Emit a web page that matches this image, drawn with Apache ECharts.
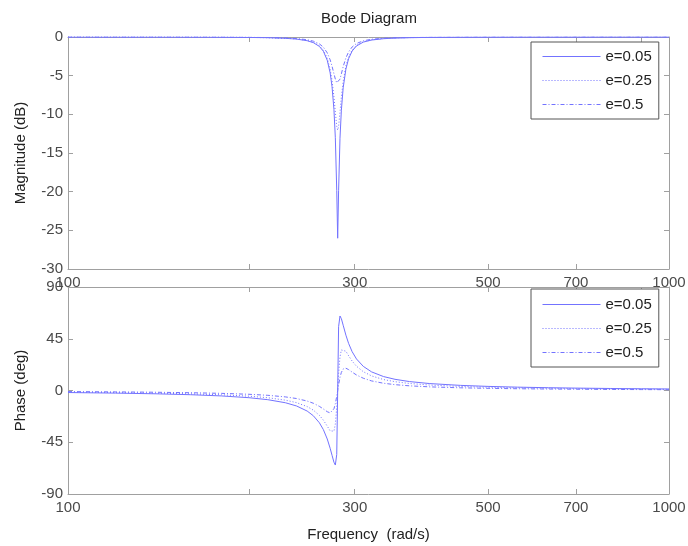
<!DOCTYPE html>
<html>
<head>
<meta charset="utf-8">
<title>Bode Diagram</title>
<script src="https://cdn.jsdelivr.net/npm/echarts@6/dist/echarts.min.js"></script>
<style>
	html, body { margin: 0; padding: 0; background: #fff; }
	#bodeChart { width: 688px; height: 546px; }
</style>
</head>
<body>
<div id="bodeChart"></div>
<script>
// frequency points (rad/s)
var freq = [100, 120, 140, 160, 180, 200, 215, 230, 240, 250, 256, 262, 266, 270, 273, 275, 277, 278.5, 280, 281,
	282, 283.5, 285, 287, 290, 293, 297, 302, 310, 320, 335, 350, 370, 400, 450, 500, 560, 630, 700, 800, 900, 1000];

// magnitude (dB)
var mag005 = [0, -0.01, -0.01, -0.02, -0.03, -0.06, -0.09, -0.17, -0.27, -0.48, -0.73, -1.22, -1.84, -3.01, -4.63, -6.43, -9.35, -13.02, -19.85, -26.02,
	-19.87, -13.09, -9.46, -6.57, -4.15, -2.81, -1.82, -1.16, -0.66, -0.39, -0.22, -0.14, -0.09, -0.05, -0.03, -0.02, -0.01, -0.01, -0.01, 0, 0, 0];
var mag025 = [0, -0.01, -0.01, -0.02, -0.03, -0.05, -0.09, -0.16, -0.25, -0.45, -0.68, -1.14, -1.71, -2.75, -4.16, -5.62, -7.72, -9.70, -11.56, -12.04,
	-11.56, -9.73, -7.78, -5.74, -3.75, -2.58, -1.68, -1.08, -0.62, -0.37, -0.20, -0.13, -0.08, -0.05, -0.03, -0.02, -0.01, -0.01, -0.01, 0, 0, 0];
var mag05 = [0, -0.01, -0.01, -0.01, -0.02, -0.04, -0.07, -0.13, -0.20, -0.35, -0.54, -0.89, -1.31, -2.05, -2.95, -3.78, -4.75, -5.44, -5.92, -6.02,
	-5.92, -5.45, -4.77, -3.83, -2.70, -1.93, -1.29, -0.84, -0.49, -0.29, -0.16, -0.10, -0.07, -0.04, -0.02, -0.01, -0.01, -0.01, 0, 0, 0, 0];

// phase (deg)
var phase005 = [-1.77, -2.27, -2.88, -3.66, -4.72, -6.25, -7.98, -10.65, -13.45, -17.87, -21.97, -28.10, -33.99, -42.17, -50.21, -56.34, -62.34, -64.80, -55.61, 0,
	55.54, 64.79, 62.46, 56.75, 48.13, 40.98, 33.76, 27.42, 20.98, 16.18, 12.11, 9.73, 7.76, 6.01, 4.45, 3.57, 2.92, 2.42, 2.08, 1.74, 1.51, 1.33];
var phase025 = [-1.40, -1.79, -2.28, -2.89, -3.72, -4.93, -6.28, -8.38, -10.56, -13.97, -17.08, -21.61, -25.76, -30.98, -35.08, -36.77, -35.38, -29.21, -14.55, 0,
	14.49, 29.05, 35.24, 36.79, 34.16, 30.27, 25.60, 21.11, 16.35, 12.67, 9.52, 7.66, 6.11, 4.74, 3.51, 2.82, 2.30, 1.91, 1.64, 1.38, 1.19, 1.05];
var phase05 = [-0.93, -1.20, -1.52, -1.93, -2.48, -3.28, -4.18, -5.56, -6.98, -9.16, -11.10, -13.80, -16.05, -18.44, -19.48, -18.80, -15.94, -11.48, -5.01, 0,
	4.99, 11.41, 15.75, 18.73, 19.38, 18.16, 15.98, 13.51, 10.66, 8.34, 6.30, 5.08, 4.06, 3.16, 2.34, 1.88, 1.53, 1.27, 1.10, 0.92, 0.79, 0.70];

var seriesNames = ['e=0.05', 'e=0.25', 'e=0.5'];
var xTicks = [100, 200, 300, 500, 700, 900, 1000];
var xLabels = [100, 300, 500, 700, 900, 1000];

var FONT = "'Liberation Sans', Arial, sans-serif";
var LINE_COLOR = '#7373ff';
var AXIS_COLOR = '#a0a0a0';
var dashTypes = ['solid', [1, 2], [4, 2, 1, 2]];

function pairs(xs, ys) {
	var out = [];
	for (var i = 0; i < xs.length; i++) {
		out.push([xs[i], ys[i]]);
	}
	return out;
}

function xAxisFor(grid, pos, withLabels, name) {
	return {
		type: 'log',
		logBase: 10,
		gridIndex: grid,
		position: pos,
		min: 100,
		max: 1000,
		name: name || '',
		nameLocation: 'middle',
		nameGap: 33,
		nameTextStyle: { fontFamily: FONT, fontSize: 15, color: '#222' },
		axisLine: { show: true, onZero: false, lineStyle: { color: AXIS_COLOR, width: 1 } },
		axisTick: { show: true, inside: true, length: 5, customValues: xTicks, lineStyle: { color: AXIS_COLOR } },
		minorTick: { show: false },
		axisLabel: {
			show: withLabels,
			customValues: xLabels,
			showMinLabel: true,
			showMaxLabel: true,
			margin: 6,
			fontFamily: FONT,
			fontSize: 15,
			color: '#4a4a4a',
			formatter: function (v) { return String(Math.round(v)); }
		},
		splitLine: { show: false },
		minorSplitLine: { show: false }
	};
}

function yAxisFor(grid, pos, min, max, interval, withLabels, name) {
	return {
		type: 'value',
		gridIndex: grid,
		position: pos,
		min: min,
		max: max,
		interval: interval,
		name: name || '',
		nameLocation: 'middle',
		nameGap: 40,
		nameTextStyle: { fontFamily: FONT, fontSize: 15, color: '#222' },
		axisLine: { show: true, onZero: false, lineStyle: { color: AXIS_COLOR, width: 1 } },
		axisTick: { show: true, inside: true, length: 5, lineStyle: { color: AXIS_COLOR } },
		axisLabel: {
			show: withLabels,
			showMinLabel: true,
			showMaxLabel: true,
			margin: 5,
			fontFamily: FONT,
			fontSize: 15,
			color: '#4a4a4a'
		},
		splitLine: { show: false }
	};
}

function legendFor(top, pad) {
	var items = [];
	for (var i = 0; i < seriesNames.length; i++) {
		items.push({
			name: seriesNames[i],
			// hide the marker symbol, keep only the line sample
			itemStyle: { opacity: 0 },
			lineStyle: { color: LINE_COLOR, width: 1, type: dashTypes[i], opacity: 1 }
		});
	}
	return {
		data: items,
		orient: 'vertical',
		left: 531,
		top: top,
		itemWidth: 58,
		itemHeight: 15,
		itemGap: 9,
		padding: pad,
		selectedMode: false,
		backgroundColor: '#fff',
		borderColor: '#555',
		borderWidth: 1,
		borderRadius: 0,
		textStyle: { fontFamily: FONT, fontSize: 15, color: '#222' }
	};
}

function initBodeChart() {
	var bodeChart = echarts.init(document.getElementById('bodeChart'), null, { renderer: 'canvas' });
	var magData = [mag005, mag025, mag05];
	var phaseData = [phase005, phase025, phase05];
	var series = [];
	for (var i = 0; i < seriesNames.length; i++) {
		series.push({
			name: seriesNames[i],
			type: 'line',
			xAxisIndex: 0,
			yAxisIndex: 0,
			symbol: 'none',
			animation: false,
			lineStyle: { color: LINE_COLOR, width: 1, type: dashTypes[i] },
			itemStyle: { color: LINE_COLOR },
			data: pairs(freq, magData[i])
		});
	}
	for (var j = 0; j < seriesNames.length; j++) {
		series.push({
			name: seriesNames[j],
			type: 'line',
			xAxisIndex: 2,
			yAxisIndex: 2,
			symbol: 'none',
			animation: false,
			lineStyle: { color: LINE_COLOR, width: 1, type: dashTypes[j] },
			itemStyle: { color: LINE_COLOR },
			data: pairs(freq, phaseData[j])
		});
	}

	var bodeOption = {
		backgroundColor: '#fff',
		animation: false,
		title: {
			text: 'Bode Diagram',
			left: 369,
			textAlign: 'center',
			top: 11,
			padding: 0,
			textStyle: { fontFamily: FONT, fontSize: 15, fontWeight: 'normal', color: '#222' }
		},
		legend: [
			legendFor(42, [7, 7, 7, 11]),
			legendFor(289, [8, 7, 7, 11])
		],
		grid: [
			{ left: 68, top: 37, width: 601, height: 232, outerBoundsMode: 'none', containLabel: false },
			{ left: 68, top: 287, width: 601, height: 207, outerBoundsMode: 'none', containLabel: false }
		],
		xAxis: [
			xAxisFor(0, 'bottom', true),
			xAxisFor(0, 'top', false),
			xAxisFor(1, 'bottom', true, 'Frequency  (rad/s)'),
			xAxisFor(1, 'top', false)
		],
		yAxis: [
			yAxisFor(0, 'left', -30, 0, 5, true, 'Magnitude (dB)'),
			yAxisFor(0, 'right', -30, 0, 5, false),
			yAxisFor(1, 'left', -90, 90, 45, true, 'Phase (deg)'),
			yAxisFor(1, 'right', -90, 90, 45, false)
		],
		series: series
	};

	bodeChart.setOption(bodeOption);
}

initBodeChart();
</script>
</body>
</html>
